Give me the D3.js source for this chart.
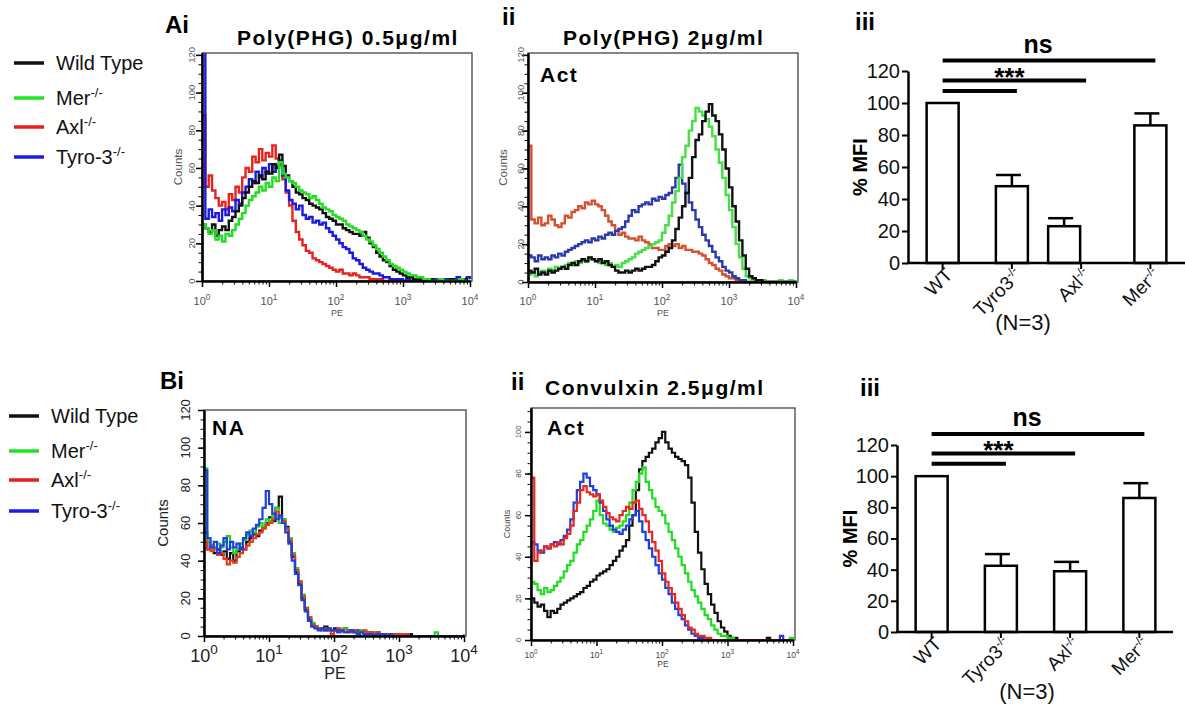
<!DOCTYPE html>
<html>
<head>
<meta charset="utf-8">
<script src="https://cdn.jsdelivr.net/npm/d3@7"></script>
<style>
  body { margin: 0; background: #fff; }
  svg { font-family: Arial, "Liberation Sans", sans-serif; }
</style>
</head>
<body>
<div id="figure"></div>
<script>
// PE channel positions (log10), one per histogram bin
const binLog = d3.range(81).map(i => i * 0.05);

// --- Ai: Poly(PHG) 0.5 ug/ml
const aiWildType = [30,28,26,30,24,27,29,27,32,34, 37,40,44,47,50,53,52,56,54,58, 57,62,60,67,61,56,53,50,47,46,
  44,43,41,40,39,38,36,34,33,32, 30,30,28,27,26,25,25,24,26,23, 20,18,15,13,11,10,8,6,5,4, 3,2,2,1,1,1,0,1,1,0,
  0,1,0,0,1,0,0,0,1,0, 0];
const aiMer = [30,28,25,27,22,24,21,25,24,27, 30,33,36,40,43,45,47,50,48,52, 50,55,53,63,57,55,53,52,50,48,
  47,46,44,45,43,41,39,38,37,35, 34,33,32,30,29,28,27,26,24,22, 21,19,17,15,13,11,9,8,7,6, 5,4,3,3,2,2,1,1,0,0,
  0,1,0,0,0,0,0,1,0,0, 0];
const aiAxl = [88,50,56,48,44,40,42,38,46,43, 50,47,55,60,58,66,63,70,64,68, 66,72,65,62,54,47,40,32,26,22,
  19,16,15,12,11,10,9,8,7,6, 5,6,4,4,3,4,3,2,2,2, 1,1,1,1,0,0,0,0,0,0, 0,0,0,0,0,0,0,0,0,0,
  0,0,0,0,0,0,0,0,0,0, 0];
const aiTyro3 = [125,33,38,34,36,32,38,35,39,37, 43,41,47,50,54,52,58,55,60,57, 62,58,61,64,56,48,43,41,38,40,
  35,33,34,31,32,30,31,28,26,24, 22,20,18,17,15,12,11,9,7,6, 5,4,4,3,2,2,1,1,1,1, 0,1,0,1,0,0,1,0,0,1,
  0,0,1,1,0,1,2,1,1,2, 1];

// --- Aii: Poly(PHG) 2 ug/ml
const aiiWildType = [6,5,7,4,5,4,6,5,6,7, 8,7,9,10,9,11,12,11,13,12, 11,12,10,11,9,8,6,5,5,6,
  5,6,7,6,7,8,8,9,11,13, 14,16,18,22,28,34,40,47,55,66, 75,78,85,90,94,88,85,78,70,60, 50,40,32,22,14,7,3,2,1,1,
  0,0,0,0,0,0,0,0,0,0, 0];
const aiiMer = [4,5,3,5,6,5,7,6,8,7, 8,9,10,9,11,10,12,11,13,12, 11,10,11,9,10,8,9,8,10,11,
  12,13,15,16,17,18,19,20,21,22, 26,30,35,42,48,55,66,72,80,85, 92,90,88,86,82,77,70,63,55,46, 38,29,20,13,7,3,2,1,1,0,
  1,0,0,0,0,1,0,0,1,0, 1];
const aiiAxl = [72,33,31,34,30,31,35,33,30,29, 31,35,34,37,38,40,39,42,41,43, 41,40,38,35,32,30,27,25,26,24,
  23,23,22,24,22,21,20,18,18,17, 17,19,20,19,20,18,19,17,17,16, 16,15,14,12,10,9,7,6,4,3, 2,2,1,1,0,0,0,0,0,0,
  0,0,0,0,0,0,0,0,0,0, 0];
const aiiTyro3 = [14,13,11,14,12,13,12,14,13,15, 14,16,17,18,19,20,21,22,21,23, 22,24,23,25,26,25,27,28,29,32,
  35,38,37,40,41,42,41,44,43,45, 44,46,47,50,55,62,52,47,42,38, 33,29,25,22,19,16,13,11,8,6, 5,3,2,1,1,0,0,0,0,0,
  0,0,0,0,0,0,0,0,0,0, 0];

// --- Bi: non activated
const biWildType = [55,46,48,44,46,43,45,41,44,40, 45,47,46,50,52,54,53,56,58,60, 63,61,68,74,62,58,50,42,34,28,
  20,14,9,6,5,4,4,5,4,3, 4,3,3,4,3,3,2,3,2,2, 2,2,1,2,1,1,1,1,1,1, 1,1,0,1,0,0,0,0,0,0,
  0,0,0,0,0,0,0,0,0,0, 0];
const biMer = [89,50,48,46,49,47,50,53,47,44, 46,49,51,54,56,55,58,60,58,62, 61,64,68,60,62,57,52,44,36,29,
  22,15,10,7,5,4,4,3,4,3, 3,2,3,4,2,3,2,2,3,2, 2,1,2,1,1,1,1,0,1,1, 0,0,0,0,0,0,0,0,0,0,
  0,2,0,0,0,0,0,0,0,0, 1];
const biAxl = [50,46,45,47,43,44,41,38,40,39, 42,44,46,48,50,52,54,55,57,59, 60,62,66,63,61,57,51,43,35,29,
  21,15,10,6,5,4,3,4,3,1, 3,4,3,2,3,2,3,2,2,3, 2,2,1,2,1,1,1,1,1,1, 1,1,1,0,0,0,0,0,0,0,
  0,0,0,0,0,0,0,0,0,0, 0];
const biTyro3 = [88,52,47,50,44,48,52,46,50,47, 49,46,52,55,53,57,59,62,68,77, 70,65,62,64,60,55,49,40,33,27,
  19,13,8,5,4,3,4,3,4,3, 3,2,3,2,2,3,2,1,2,1, 1,1,0,1,1,1,0,1,0,0, 0,0,0,0,0,0,0,0,0,0,
  0,0,0,0,0,0,0,0,0,0, 0];

// --- Bii: Convulxin 2.5 ug/ml
const biiWildType = [20,18,16,17,14,11,14,13,15,17, 18,19,20,21,22,23,25,26,28,29, 31,32,33,34,36,38,40,43,45,48,
  55,60,72,82,86,88,90,92,95,97, 100,95,92,90,88,87,86,84,78,66, 52,42,34,27,22,17,13,9,6,4, 2,1,1,0,0,0,0,0,0,0,
  0,0,1,0,0,0,0,0,0,0, 0];
const biiMer = [28,27,24,22,25,23,24,26,28,30, 33,36,38,42,46,48,52,55,58,62, 67,60,56,55,53,52,54,55,57,60,
  66,72,76,80,83,76,72,68,64,62, 60,56,52,48,44,40,36,32,28,24, 21,18,15,12,10,7,5,3,2,2, 1,1,0,0,0,0,0,0,0,0,
  0,0,0,0,0,0,0,0,0,1, 0];
const biiAxl = [78,38,42,43,45,44,46,45,47,46, 49,51,55,62,66,72,74,71,70,69, 70,67,64,61,59,58,57,60,62,64,
  63,66,67,63,60,57,52,47,43,38, 32,28,25,22,18,15,12,9,6,5, 3,2,2,1,1,0,0,0,0,0, 0,0,0,0,0,0,0,0,0,0,
  0,0,0,0,0,0,0,0,0,0, 0];
const biiTyro3 = [47,46,43,42,45,44,46,47,46,48, 50,53,58,66,72,76,80,78,74,72, 70,66,62,58,55,53,52,51,53,55,
  58,60,62,57,52,48,44,40,36,32, 29,25,22,18,15,12,10,7,5,3, 2,1,1,0,0,0,0,0,0,0, 0,0,0,0,0,0,0,0,0,0,
  0,0,0,0,0,0,2,0,0,0, 0];

// --- bar charts (% MFI, N=3)
const barGroups = ['WT', 'Tyro3', 'Axl', 'Mer'];
const aiiiMean = [100, 48, 23, 86];
const aiiiErr = [0, 7, 5, 7.5];
const biiiMean = [100, 42.5, 39, 86];
const biiiErr = [0, 7.5, 6, 9.5];
const aiiiSig = [{ to: 'Tyro3', y: 107.5, label: '' }, { to: 'Axl', y: 114, label: '***' }, { to: 'Mer', y: 126.5, label: 'ns' }];
const biiiSig = [{ to: 'Tyro3', y: 108, label: '' }, { to: 'Axl', y: 114.5, label: '***' }, { to: 'Mer', y: 127, label: 'ns' }];

const legendNames = ['Wild Type', 'Mer', 'Axl', 'Tyro-3'];
const legendColors = ['#111', '#1ee61e', '#ea1c1c', '#1c1ce8'];
const histTicksY = [0, 20, 40, 60, 80, 100, 120];
const barTicksY = [0, 20, 40, 60, 80, 100, 120];

const svg = d3.select('#figure')
    .append('svg')
    .attr('width', 1185)
    .attr('height', 705);

function boldText(x, y, txt, size, spacing) {
    return svg.append('text')
        .attr('x', x).attr('y', y)
        .attr('font-size', size)
        .attr('font-weight', 'bold')
        .attr('letter-spacing', spacing || 0)
        .attr('fill', '#000')
        .text(txt);
}

function drawLegend(lineX, textX, ys) {
    legendNames.forEach((name, i) => {
        svg.append('line')
            .attr('x1', lineX).attr('x2', lineX + 30)
            .attr('y1', ys[i]).attr('y2', ys[i])
            .attr('stroke', legendColors[i])
            .attr('stroke-width', 3.5);
        const t = svg.append('text')
            .attr('x', textX).attr('y', ys[i] + 7)
            .attr('font-size', 20)
            .attr('fill', '#111')
            .text(name);
        if (i > 0) {
            t.append('tspan').attr('dy', -8).attr('font-size', 13).text('-/-');
        }
    });
}

function drawHistogram(p) {
    const x = d3.scaleLog().domain([1, 1e4]).range([p.left, p.right - 2]);
    const y = d3.scaleLinear().domain([0, p.yMax]).range([p.bottom, p.top]);
    const g = svg.append('g');

    svg.append('clipPath').attr('id', 'clip-' + p.id)
        .append('rect')
        .attr('x', p.left).attr('y', p.top)
        .attr('width', p.right - p.left).attr('height', p.bottom - p.top);

    // frame
    g.append('rect')
        .attr('x', p.left).attr('y', p.top)
        .attr('width', p.right - p.left).attr('height', p.bottom - p.top)
        .attr('fill', 'none')
        .attr('stroke', '#444')
        .attr('stroke-width', 1.3);

    const line = d3.line()
        .x(d => x(d[0]))
        .y(d => y(Math.min(d[1], p.yMax + 5)))
        .curve(d3.curveStepAfter);

    p.series.forEach(s => {
        const pts = [[1, 0]].concat(binLog.map((b, i) => [Math.pow(10, b), s.values[i]]));
        g.append('path')
            .attr('d', line(pts))
            .attr('fill', 'none')
            .attr('stroke', s.color)
            .attr('stroke-width', p.lineWidth)
            .attr('clip-path', `url(#clip-${p.id})`);
    });

    // left axis, minor every 5 and major every 20
    const minorY = d3.range(0, p.yMax + 0.1, 5);
    g.append('g')
        .attr('transform', `translate(${p.left},0)`)
        .call(d3.axisLeft(y).tickValues(minorY).tickSize(3.5).tickSizeOuter(0).tickFormat(''))
        .call(a => a.select('.domain').attr('stroke-width', 2));
    g.append('g')
        .attr('transform', `translate(${p.left},0)`)
        .call(d3.axisLeft(y).tickValues(histTicksY.filter(v => v <= p.yMax)).tickSize(6).tickSizeOuter(0).tickFormat(''))
        .call(a => a.select('.domain').attr('stroke-width', 2))
        .call(a => a.selectAll('.tick line').attr('stroke-width', 1.5));

    // bottom axis, log decades
    const minorX = [];
    [1, 10, 100, 1000].forEach(d => [2, 3, 4, 5, 6, 7, 8, 9].forEach(m => minorX.push(d * m)));
    g.append('g')
        .attr('transform', `translate(0,${p.bottom})`)
        .call(d3.axisBottom(x).tickValues(minorX).tickSize(3.5).tickSizeOuter(0).tickFormat(''))
        .call(a => a.select('.domain').attr('stroke-width', 2));
    g.append('g')
        .attr('transform', `translate(0,${p.bottom})`)
        .call(d3.axisBottom(x).tickValues([1, 10, 100, 1000, 10000]).tickSize(6).tickSizeOuter(0).tickFormat(''))
        .call(a => a.select('.domain').attr('stroke-width', 2))
        .call(a => a.selectAll('.tick line').attr('stroke-width', 1.5));

    histTicksY.filter(v => v <= p.yMax).forEach(v => {
        g.append('text')
            .attr('transform', `translate(${p.yLabelX},${y(v)}) rotate(-90)`)
            .attr('text-anchor', 'middle')
            .attr('font-size', p.yTickFont)
            .attr('fill', p.labelColor)
            .text(v);
    });

    [0, 1, 2, 3, 4].forEach(k => {
        const t = g.append('text')
            .attr('x', x(Math.pow(10, k)))
            .attr('y', p.xLabelY)
            .attr('text-anchor', 'middle')
            .attr('font-size', p.xTickFont)
            .attr('fill', p.labelColor);
        t.append('tspan').text('10');
        t.append('tspan')
            .attr('dy', -p.xTickFont * 0.45)
            .attr('font-size', p.xTickFont * 0.75)
            .text(k);
    });

    g.append('text')
        .attr('x', (p.left + p.right) / 2)
        .attr('y', p.peY)
        .attr('text-anchor', 'middle')
        .attr('font-size', p.peFont)
        .attr('fill', p.labelColor)
        .text('PE');

    g.append('text')
        .attr('transform', `translate(${p.countsX},${(p.top + p.bottom) / 2}) rotate(-90)`)
        .attr('text-anchor', 'middle')
        .attr('font-size', p.countsFont)
        .attr('fill', p.labelColor)
        .text('Counts');
}

function drawBars(p) {
    const x = d3.scaleBand().domain(barGroups).range([p.axisX, p.axisX + 277]);
    const y = d3.scaleLinear().domain([0, 120]).range([p.y0, p.y120]);
    const g = svg.append('g');
    const bw = 32;
    const cx = d => x(d) + x.bandwidth() / 2;
    const barX = d => cx(d) + (p.shift[d] || 0);

    g.selectAll('.bar')
        .data(barGroups)
        .enter()
        .append('rect')
        .attr('class', 'bar')
        .attr('x', d => barX(d) - bw / 2)
        .attr('y', (d, i) => y(p.mean[i]))
        .attr('width', bw)
        .attr('height', (d, i) => y(0) - y(p.mean[i]))
        .attr('fill', '#fff')
        .attr('stroke', '#000')
        .attr('stroke-width', 2.5);

    // error bars (upper only)
    barGroups.forEach((d, i) => {
        if (!p.err[i]) return;
        const top = y(p.mean[i] + p.err[i]);
        g.append('line')
            .attr('x1', barX(d)).attr('x2', barX(d))
            .attr('y1', y(p.mean[i])).attr('y2', top)
            .attr('stroke', '#000').attr('stroke-width', 2.5);
        g.append('line')
            .attr('x1', barX(d) - bw / 2).attr('x2', barX(d) + 9)
            .attr('y1', top).attr('y2', top)
            .attr('stroke', '#000').attr('stroke-width', 2.5);
    });

    // axes
    g.append('g')
        .attr('transform', `translate(${p.axisX},0)`)
        .call(d3.axisLeft(y).tickValues(barTicksY).tickSize(6).tickPadding(2).tickSizeOuter(0))
        .call(a => a.select('.domain').attr('stroke-width', 2.5))
        .call(a => a.selectAll('.tick line').attr('stroke-width', 2))
        .call(a => a.selectAll('.tick text').attr('font-size', 20).attr('font-family', 'Arial, "Liberation Sans", sans-serif').attr('fill', '#111'));

    g.append('line')
        .attr('x1', p.axisX - 1).attr('x2', p.xEnd)
        .attr('y1', y(0)).attr('y2', y(0))
        .attr('stroke', '#000').attr('stroke-width', 2.5);

    barGroups.forEach(d => {
        g.append('line')
            .attr('x1', cx(d)).attr('x2', cx(d))
            .attr('y1', y(0)).attr('y2', y(0) + 6)
            .attr('stroke', '#000').attr('stroke-width', 2);
        const t = g.append('text')
            .attr('transform', `translate(${cx(d) + 11},${y(0) + 13}) rotate(-45)`)
            .attr('text-anchor', 'end')
            .attr('font-size', 19)
            .attr('fill', '#111')
            .text(d);
        if (d !== 'WT') {
            t.append('tspan').attr('dy', -7).attr('font-size', 12).text('-/-');
        }
    });

    // significance lines
    p.sig.forEach(s => {
        const x1 = cx('WT');
        const x2 = cx(s.to) + 5;
        g.append('line')
            .attr('x1', x1).attr('x2', x2)
            .attr('y1', y(s.y)).attr('y2', y(s.y))
            .attr('stroke', '#000').attr('stroke-width', 4);
        if (s.label === '***') {
            g.append('text')
                .attr('x', (x1 + x2) / 2 - 5).attr('y', y(s.y) + 5)
                .attr('text-anchor', 'middle')
                .attr('font-size', 26).attr('font-weight', 'bold')
                .text(s.label);
        } else if (s.label === 'ns') {
            g.append('text')
                .attr('x', (x1 + x2) / 2 - 11).attr('y', y(s.y) - 8)
                .attr('text-anchor', 'middle')
                .attr('font-size', 25).attr('font-weight', 'bold')
                .text(s.label);
        }
    });

    g.append('text')
        .attr('transform', `translate(${p.mfiX},${(y(0) + y(120)) / 2}) rotate(-90)`)
        .attr('text-anchor', 'middle')
        .attr('font-size', 20).attr('font-weight', 'bold')
        .text('% MFI');

    g.append('text')
        .attr('x', p.nX).attr('y', p.nY)
        .attr('text-anchor', 'middle')
        .attr('font-size', 22)
        .attr('fill', '#111')
        .text('(N=3)');
}

// legends
drawLegend(14, 56, [63, 98, 127, 157]);
drawLegend(9, 51, [416, 451, 480, 511]);

// Ai
drawHistogram({
    id: 'ai', left: 202, right: 472, top: 53, bottom: 281, yMax: 121,
    lineWidth: 2.4, labelColor: '#555',
    yTickFont: 9.5, xTickFont: 11, peFont: 9, countsFont: 11.5,
    yLabelX: 195, xLabelY: 305, peY: 316, countsX: 182,
    series: [
        { values: aiAxl, color: '#e8231b' },
        { values: aiTyro3, color: '#1a1adf' },
        { values: aiWildType, color: '#111' },
        { values: aiMer, color: '#22dd22' }
    ]
});

// Aii
drawHistogram({
    id: 'aii', left: 528, right: 798, top: 53, bottom: 282, yMax: 121,
    lineWidth: 2.4, labelColor: '#555',
    yTickFont: 9.5, xTickFont: 11, peFont: 9, countsFont: 11.5,
    yLabelX: 524, xLabelY: 305, peY: 316, countsX: 507,
    series: [
        { values: aiiAxl, color: '#d4502f' },
        { values: aiiTyro3, color: '#2b3aa6' },
        { values: aiiMer, color: '#44e044' },
        { values: aiiWildType, color: '#111' }
    ]
});

// Bi
drawHistogram({
    id: 'bi', left: 204, right: 466, top: 410, bottom: 636, yMax: 120,
    lineWidth: 2.2, labelColor: '#222',
    yTickFont: 13, xTickFont: 18, peFont: 16, countsFont: 15,
    yLabelX: 190, xLabelY: 662, peY: 679, countsX: 168,
    series: [
        { values: biWildType, color: '#111' },
        { values: biMer, color: '#1ed61e' },
        { values: biAxl, color: '#e83a1c' },
        { values: biTyro3, color: '#1c3fe0' }
    ]
});

// Bii
drawHistogram({
    id: 'bii', left: 531, right: 795, top: 408, bottom: 640, yMax: 111.5,
    lineWidth: 2.2, labelColor: '#444',
    yTickFont: 7.5, xTickFont: 8.5, peFont: 8.5, countsFont: 9,
    yLabelX: 521, xLabelY: 658, peY: 667, countsX: 510,
    series: [
        { values: biiWildType, color: '#111' },
        { values: biiMer, color: '#1ee01e' },
        { values: biiTyro3, color: '#1c3fe0' },
        { values: biiAxl, color: '#e8281c' }
    ]
});

// Aiii and Biii
drawBars({
    axisX: 908, y0: 263, y120: 71, xEnd: 1185,
    mean: aiiiMean, err: aiiiErr, sig: aiiiSig, shift: { Axl: -17 },
    mfiX: 867, nX: 1023, nY: 330
});
drawBars({
    axisX: 897, y0: 632, y120: 445, xEnd: 1173,
    mean: biiiMean, err: biiiErr, sig: biiiSig, shift: {},
    mfiX: 857, nX: 1027, nY: 699
});

// panel letters, titles, annotations
boldText(165, 33, 'Ai', 24);
boldText(502, 25, 'ii', 24);
boldText(855, 30, 'iii', 24);
boldText(160, 389, 'Bi', 24);
boldText(511, 390, 'ii', 24);
boldText(860, 396, 'iii', 24);

boldText(237, 45, 'Poly(PHG) 0.5μg/ml', 21, 1.5);
boldText(563, 45, 'Poly(PHG) 2μg/ml', 21, 1.5);
boldText(545, 395, 'Convulxin 2.5μg/ml', 21, 1.5);
boldText(540, 82, 'Act', 21, 1.5);
boldText(547, 435, 'Act', 21, 1.5);
boldText(212, 435, 'NA', 21, 1.5);
</script>
</body>
</html>
